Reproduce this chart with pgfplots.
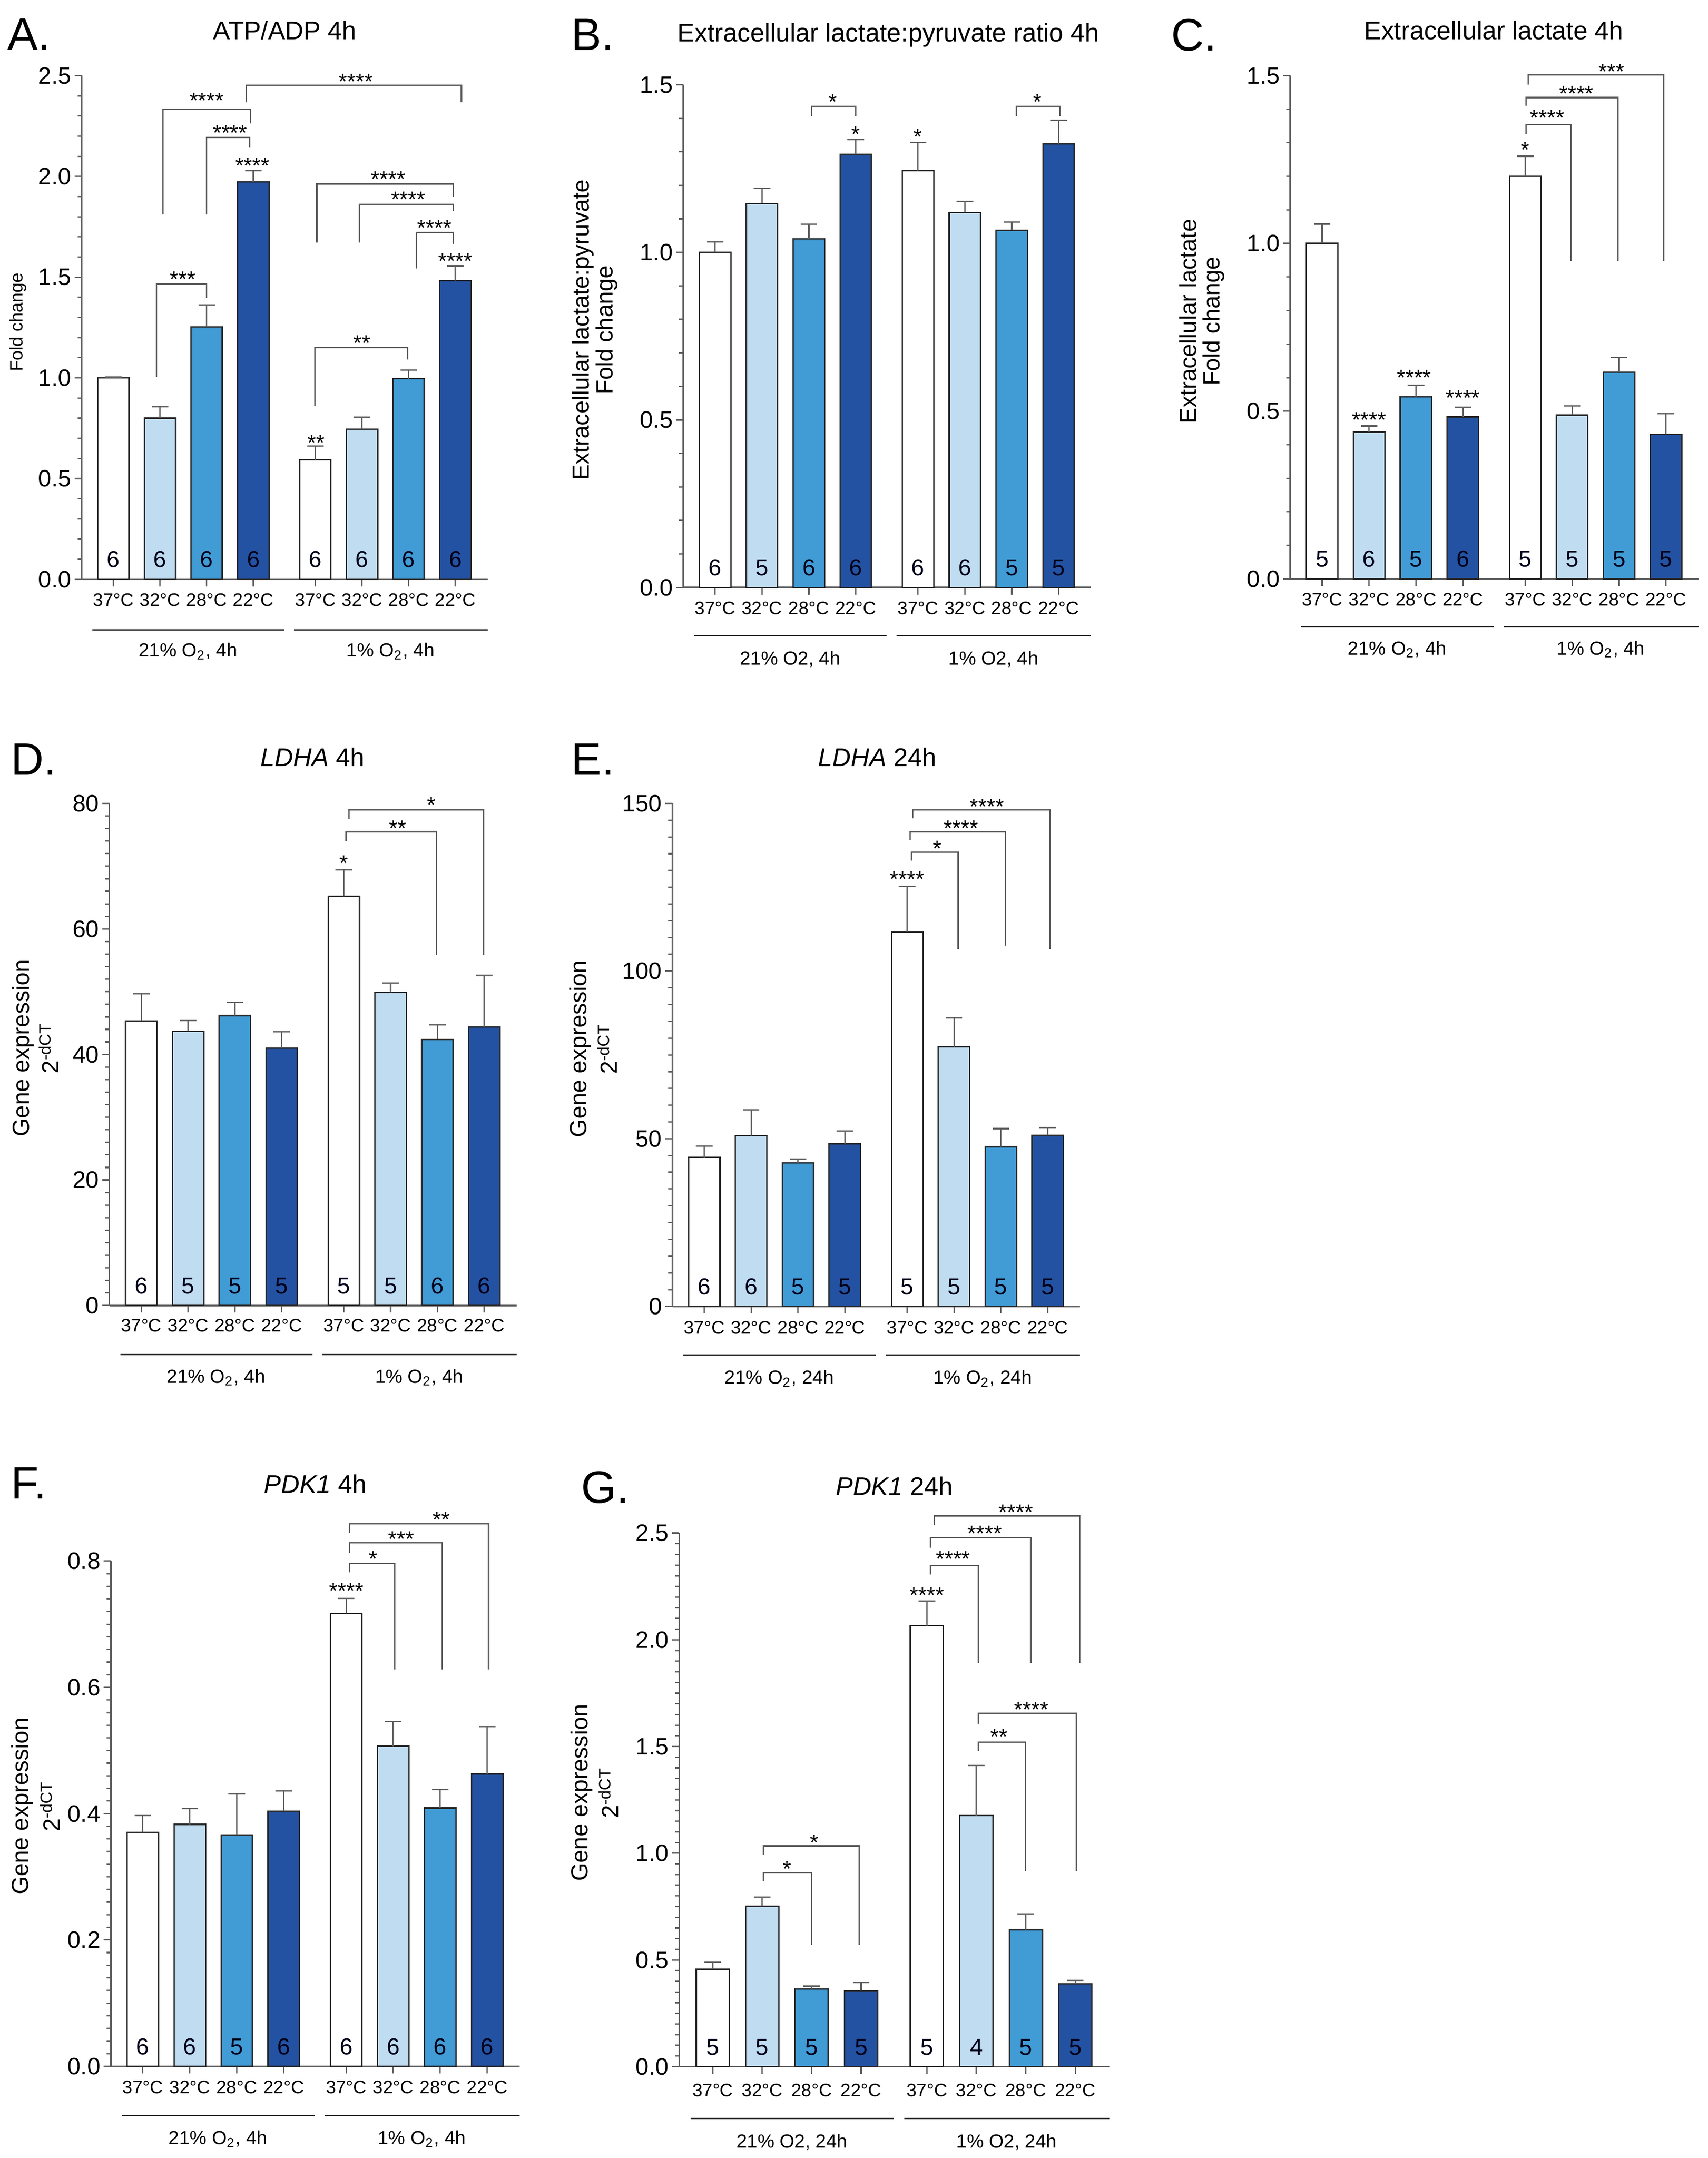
\documentclass[border=0pt]{standalone}
\usepackage{pgfplots}
\pgfplotsset{compat=1.18}
\usepackage{fontspec}
\setmainfont{Liberation Sans}

\definecolor{cA}{RGB}{255,255,255}
\definecolor{cB}{RGB}{192,220,241}
\definecolor{cC}{RGB}{65,155,213}
\definecolor{cD}{RGB}{36,82,162}
\definecolor{axgray}{RGB}{95,95,95}

\tikzset{
  cat/.style={font=\fontsize{6.6}{7}\selectfont, inner sep=0pt, anchor=center},
  grp/.style={font=\fontsize{6.9}{8}\selectfont, inner sep=0pt, anchor=center},
  nlab/.style={font=\fontsize{8.4}{9}\selectfont, text=black!90!blue, inner sep=0pt, anchor=base, yshift=4.3pt},
  star/.style={font=\fontsize{8}{9}\selectfont, inner sep=0pt, anchor=center, yshift=-1.7pt},
  brkl/.style={draw=black!65, line width=0.5pt},
  ttl/.style={font=\fontsize{9.3}{11}\selectfont, inner sep=0pt, anchor=base},
  letter/.style={font=\fontsize{16.5}{18}\selectfont, inner sep=0pt, anchor=base west},
  ylab/.style={font=\fontsize{8.5}{10}\selectfont, inner sep=0pt, anchor=base, rotate=90},
}

\pgfplotsset{
  gp/.style={
    scale only axis,
    anchor=south west,
    axis x line=bottom, axis y line=left,
    axis line style={-, draw=axgray, line width=0.55pt},
    xmin=-0.68, xmax=8.02, ymin=0,
    xtick={0,1,2,3,4.33,5.33,6.33,7.33},
    xticklabels={},
    tick align=outside,
    major tick length=2.6pt, minor tick length=1.5pt,
    tick style={draw=axgray, line width=0.5pt},
    yticklabel style={font=\fontsize{8.6}{9}\selectfont, inner sep=0pt, anchor=east, xshift=-1.0pt},
    /pgf/number format/assume math mode=true,
    clip=false,
    enlargelimits=false,
  },
  dec1/.style={yticklabel style={/pgf/number format/.cd, fixed, fixed zerofill, precision=1}},
  barstyle/.style={ybar, bar width=0.67, bar shift=0pt, draw=black!85, line width=0.5pt,
    error bars/y dir=plus, error bars/y explicit,
    error bars/error bar style={draw=axgray, line width=0.5pt},
    error bars/error mark options={draw=axgray, line width=0.5pt, mark size=3pt, rotate=90}},
}

\newcommand{\catlabels}[1]{%
  \node[cat] at ([yshift=#1]axis cs:0,0) {37°C};
  \node[cat] at ([yshift=#1]axis cs:1,0) {32°C};
  \node[cat] at ([yshift=#1]axis cs:2,0) {28°C};
  \node[cat] at ([yshift=#1]axis cs:3,0) {22°C};
  \node[cat] at ([yshift=#1]axis cs:4.33,0) {37°C};
  \node[cat] at ([yshift=#1]axis cs:5.33,0) {32°C};
  \node[cat] at ([yshift=#1]axis cs:6.33,0) {28°C};
  \node[cat] at ([yshift=#1]axis cs:7.33,0) {22°C};}
\newcommand{\grouplines}[4]{%
  \draw[black!85, line width=0.45pt] ([yshift=#1]axis cs:-0.45,0) -- ([yshift=#1]axis cs:3.66,0);
  \draw[black!85, line width=0.45pt] ([yshift=#1]axis cs:3.87,0) -- ([yshift=#1]axis cs:8.02,0);
  \node[grp] at ([yshift=#2]axis cs:1.6,0) {#3};
  \node[grp] at ([yshift=#2]axis cs:5.94,0) {#4};}
\newcommand{\nlabels}[8]{%
  \node[nlab] at (axis cs:0,0) {#1};
  \node[nlab] at (axis cs:1,0) {#2};
  \node[nlab] at (axis cs:2,0) {#3};
  \node[nlab] at (axis cs:3,0) {#4};
  \node[nlab] at (axis cs:4.33,0) {#5};
  \node[nlab] at (axis cs:5.33,0) {#6};
  \node[nlab] at (axis cs:6.33,0) {#7};
  \node[nlab] at (axis cs:7.33,0) {#8};}
\newcommand{\brk}[5]{\draw[brkl] (axis cs:#1,#2) -- (axis cs:#1,#5) -- (axis cs:#3,#5) -- (axis cs:#3,#4);}
\newcommand{\stars}[3]{\node[star] at (axis cs:#1,#2) {#3};}

\begin{document}
\begin{tikzpicture}
\useasboundingbox (0,0) rectangle (620pt,783.5pt);

% ---------------- A ----------------
\begin{axis}[gp, dec1, at={(29.65pt,573.15pt)}, width=147.35pt, height=182.85pt, ymax=2.5,
  ytick={0,0.5,1,1.5,2,2.5}, minor y tick num=4]
\addplot[barstyle, fill=cA] coordinates {(0,1.000) +- (0,0.004) (4.33,0.593) +- (0,0.069)};
\addplot[barstyle, fill=cB] coordinates {(1,0.800) +- (0,0.056) (5.33,0.746) +- (0,0.058)};
\addplot[barstyle, fill=cC] coordinates {(2,1.253) +- (0,0.110) (6.33,0.995) +- (0,0.043)};
\addplot[barstyle, fill=cD] coordinates {(3,1.973) +- (0,0.056) (7.33,1.483) +- (0,0.073)};
\catlabels{-7.4pt}
\grouplines{-18.4pt}{-26.15pt}{21\% O\textsubscript{2}, 4h}{1\% O\textsubscript{2}, 4h}
\nlabels{6}{6}{6}{6}{6}{6}{6}{6}
\brk{2.85}{2.367}{7.46}{2.367}{2.453} \stars{5.2}{2.494}{****}
\brk{1.06}{1.812}{2.94}{2.263}{2.332} \stars{2.0}{2.399}{****}
\brk{2.0}{1.812}{2.92}{2.145}{2.193} \stars{2.5}{2.240}{****}
\stars{2.98}{2.077}{****}
\brk{0.92}{1.006}{2.0}{1.397}{1.466} \stars{1.49}{1.513}{***}
\brk{4.36}{1.672}{7.29}{1.898}{1.963} \stars{5.89}{2.010}{****}
\brk{5.27}{1.672}{7.29}{1.829}{1.862} \stars{6.32}{1.909}{****}
\brk{6.49}{1.543}{7.29}{1.666}{1.722} \stars{6.88}{1.767}{****}
\stars{7.33}{1.604}{****}
\brk{4.32}{0.860}{6.31}{1.092}{1.150} \stars{5.33}{1.195}{**}
\stars{4.35}{0.701}{**}
\end{axis}

% ---------------- B ----------------
\begin{axis}[gp, dec1, at={(248.05pt,570.2pt)}, width=148pt, height=182.5pt, ymax=1.5,
  ytick={0,0.5,1,1.5}, minor y tick num=4]
\addplot[barstyle, fill=cA] coordinates {(0,1.000) +- (0,0.031) (4.33,1.244) +- (0,0.083)};
\addplot[barstyle, fill=cB] coordinates {(1,1.146) +- (0,0.045) (5.33,1.119) +- (0,0.033)};
\addplot[barstyle, fill=cC] coordinates {(2,1.040) +- (0,0.044) (6.33,1.066) +- (0,0.024)};
\addplot[barstyle, fill=cD] coordinates {(3,1.292) +- (0,0.044) (7.33,1.324) +- (0,0.070)};
\catlabels{-7.55pt}
\grouplines{-17.45pt}{-26.1pt}{21\% O2, 4h}{1\% O2, 4h}
\nlabels{6}{5}{6}{6}{6}{6}{5}{5}
\brk{2.06}{1.407}{3.0}{1.407}{1.435} \stars{2.51}{1.463}{*}
\stars{3.0}{1.366}{*}
\stars{4.33}{1.359}{*}
\brk{6.43}{1.407}{7.36}{1.407}{1.435} \stars{6.88}{1.463}{*}
\end{axis}

% ---------------- C ----------------
\begin{axis}[gp, dec1, at={(468.4pt,573.3pt)}, width=148.15pt, height=182.7pt, ymax=1.5,
  ytick={0,0.5,1,1.5}, minor y tick num=4]
\addplot[barstyle, fill=cA] coordinates {(0,1.000) +- (0,0.058) (4.33,1.200) +- (0,0.060)};
\addplot[barstyle, fill=cB] coordinates {(1,0.438) +- (0,0.018) (5.33,0.488) +- (0,0.028)};
\addplot[barstyle, fill=cC] coordinates {(2,0.543) +- (0,0.034) (6.33,0.616) +- (0,0.044)};
\addplot[barstyle, fill=cD] coordinates {(3,0.483) +- (0,0.029) (7.33,0.431) +- (0,0.062)};
\catlabels{-7.5pt}
\grouplines{-17.45pt}{-25.6pt}{21\% O\textsubscript{2}, 4h}{1\% O\textsubscript{2}, 4h}
\nlabels{5}{6}{5}{6}{5}{5}{5}{5}
\stars{1.0}{0.488}{****}
\stars{1.96}{0.614}{****}
\stars{3.0}{0.554}{****}
\stars{4.33}{1.293}{*}
\brk{4.35}{1.326}{5.31}{0.947}{1.355} \stars{4.80}{1.388}{****}
\brk{4.35}{1.410}{6.31}{0.947}{1.435} \stars{5.42}{1.460}{****}
\brk{4.39}{1.474}{7.28}{0.947}{1.503} \stars{6.17}{1.526}{***}
\end{axis}

% ---------------- D ----------------
\begin{axis}[gp, at={(39.75pt,309.5pt)}, width=147.75pt, height=182.3pt, ymax=80,
  ytick={0,20,40,60,80}, minor y tick num=9]
\addplot[barstyle, fill=cA] coordinates {(0,45.3) +- (0,4.4) (4.33,65.2) +- (0,4.2)};
\addplot[barstyle, fill=cB] coordinates {(1,43.7) +- (0,1.7) (5.33,49.9) +- (0,1.5)};
\addplot[barstyle, fill=cC] coordinates {(2,46.2) +- (0,2.1) (6.33,42.4) +- (0,2.3)};
\addplot[barstyle, fill=cD] coordinates {(3,41.0) +- (0,2.6) (7.33,44.4) +- (0,8.2)};
\catlabels{-7.25pt}
\grouplines{-17.75pt}{-26.1pt}{21\% O\textsubscript{2}, 4h}{1\% O\textsubscript{2}, 4h}
\nlabels{6}{5}{5}{5}{5}{5}{6}{6}
\stars{4.33}{71.2}{*}
\brk{4.38}{74.0}{6.31}{55.9}{75.5} \stars{5.48}{76.8}{**}
\brk{4.44}{77.5}{7.32}{55.9}{79.0} \stars{6.20}{80.5}{*}
\end{axis}

% ---------------- E ----------------
\begin{axis}[gp, at={(244.1pt,309.2pt)}, width=148pt, height=182.6pt, ymax=150,
  ytick={0,50,100,150}, minor y tick num=9]
\addplot[barstyle, fill=cA] coordinates {(0,44.4) +- (0,3.4) (4.33,111.7) +- (0,13.6)};
\addplot[barstyle, fill=cB] coordinates {(1,50.9) +- (0,7.7) (5.33,77.4) +- (0,8.6)};
\addplot[barstyle, fill=cC] coordinates {(2,42.8) +- (0,1.1) (6.33,47.6) +- (0,5.4)};
\addplot[barstyle, fill=cD] coordinates {(3,48.5) +- (0,3.8) (7.33,51.0) +- (0,2.3)};
\catlabels{-7.7pt}
\grouplines{-17.7pt}{-26.2pt}{21\% O\textsubscript{2}, 24h}{1\% O\textsubscript{2}, 24h}
\nlabels{6}{6}{5}{5}{5}{5}{5}{5}
\stars{4.33}{128.8}{****}
\brk{4.42}{133.0}{5.42}{106.6}{135.5} \stars{4.97}{137.9}{*}
\brk{4.39}{139.0}{6.43}{107.6}{141.5} \stars{5.48}{144.0}{****}
\brk{4.45}{145.6}{7.38}{106.6}{148.1} \stars{6.03}{150.4}{****}
\end{axis}

% ---------------- F ----------------
\begin{axis}[gp, dec1, at={(40.25pt,33.3pt)}, width=148.4pt, height=183.45pt, ymax=0.8,
  ytick={0,0.2,0.4,0.6,0.8}, minor y tick num=9]
\addplot[barstyle, fill=cA] coordinates {(0,0.370) +- (0,0.027) (4.33,0.717) +- (0,0.024)};
\addplot[barstyle, fill=cB] coordinates {(1,0.383) +- (0,0.025) (5.33,0.507) +- (0,0.039)};
\addplot[barstyle, fill=cC] coordinates {(2,0.366) +- (0,0.065) (6.33,0.409) +- (0,0.029)};
\addplot[barstyle, fill=cD] coordinates {(3,0.404) +- (0,0.032) (7.33,0.463) +- (0,0.075)};
\catlabels{-7.55pt}
\grouplines{-17.9pt}{-26.4pt}{21\% O\textsubscript{2}, 4h}{1\% O\textsubscript{2}, 4h}
\nlabels{6}{6}{5}{6}{6}{6}{6}{6}
\stars{4.33}{0.760}{****}
\brk{4.40}{0.782}{5.36}{0.628}{0.796} \stars{4.90}{0.811}{*}
\brk{4.40}{0.813}{6.37}{0.628}{0.829} \stars{5.50}{0.842}{***}
\brk{4.40}{0.844}{7.36}{0.628}{0.859} \stars{6.35}{0.873}{**}
\end{axis}

% ---------------- G ----------------
\begin{axis}[gp, dec1, at={(246.55pt,33.15pt)}, width=156.2pt, height=193.75pt, ymax=2.5,
  ytick={0,0.5,1,1.5,2,2.5}, minor y tick num=9]
\addplot[barstyle, fill=cA] coordinates {(0,0.456) +- (0,0.033) (4.33,2.066) +- (0,0.116)};
\addplot[barstyle, fill=cB] coordinates {(1,0.752) +- (0,0.042) (5.33,1.176) +- (0,0.235)};
\addplot[barstyle, fill=cC] coordinates {(2,0.364) +- (0,0.013) (6.33,0.642) +- (0,0.074)};
\addplot[barstyle, fill=cD] coordinates {(3,0.356) +- (0,0.038) (7.33,0.388) +- (0,0.017)};
\catlabels{-8.55pt}
\grouplines{-18.75pt}{-27.4pt}{21\% O2, 24h}{1\% O2, 24h}
\nlabels{5}{5}{5}{5}{5}{4}{5}{5}
\stars{4.33}{2.231}{****}
\brk{1.025}{0.869}{2.0}{0.572}{0.907} \stars{1.50}{0.949}{*}
\brk{1.025}{0.992}{2.96}{0.572}{1.034} \stars{2.05}{1.072}{*}
\brk{4.40}{2.305}{5.37}{1.892}{2.347} \stars{4.86}{2.400}{****}
\brk{4.40}{2.432}{6.43}{1.892}{2.479} \stars{5.50}{2.521}{****}
\brk{4.48}{2.538}{7.42}{1.892}{2.581} \stars{6.13}{2.619}{****}
\brk{5.37}{1.479}{6.32}{0.917}{1.521} \stars{5.79}{1.568}{**}
\brk{5.37}{1.606}{7.35}{0.917}{1.655} \stars{6.44}{1.695}{****}
\end{axis}

% ---------------- letters, titles, y labels ----------------
\node[letter] at (2.5pt,765.4pt) {A.};
\node[letter] at (207.2pt,765.2pt) {B.};
\node[letter] at (425pt,765pt) {C.};
\node[letter] at (3.85pt,502.2pt) {D.};
\node[letter] at (207.25pt,502.2pt) {E.};
\node[letter] at (3.85pt,239.4pt) {F.};
\node[letter] at (210.85pt,237.8pt) {G.};

\node[ttl] at (103.4pt,769.2pt) {ATP/ADP 4h};
\node[ttl] at (322.5pt,768.4pt) {Extracellular lactate:pyruvate ratio 4h};
\node[ttl] at (542.3pt,769.2pt) {Extracellular lactate 4h};
\node[ttl] at (113.5pt,505.2pt) {\textit{LDHA} 4h};
\node[ttl] at (318.55pt,505.2pt) {\textit{LDHA} 24h};
\node[ttl] at (114.5pt,241.35pt) {\textit{PDK1} 4h};
\node[ttl] at (324.65pt,240.55pt) {\textit{PDK1} 24h};

\node[ylab, font=\fontsize{6.5}{8}\selectfont] at (8.3pt,666.5pt) {Fold change};
\node[ylab] at (213.8pt,663.7pt) {Extracellular lactate:pyruvate};
\node[ylab] at (222.4pt,663.7pt) {Fold change};
\node[ylab] at (434.3pt,666.85pt) {Extracellular lactate};
\node[ylab] at (442.8pt,666.85pt) {Fold change};
\node[ylab] at (10.6pt,403pt) {Gene expression};
\node[ylab] at (21.3pt,403pt) {2\textsuperscript{-dCT}};
\node[ylab] at (212.9pt,402.7pt) {Gene expression};
\node[ylab] at (223.95pt,402.7pt) {2\textsuperscript{-dCT}};
\node[ylab] at (10.3pt,127.75pt) {Gene expression};
\node[ylab] at (21.7pt,127.75pt) {2\textsuperscript{-dCT}};
\node[ylab] at (213.3pt,132.65pt) {Gene expression};
\node[ylab] at (224.5pt,132.65pt) {2\textsuperscript{-dCT}};
\end{tikzpicture}
\end{document}
